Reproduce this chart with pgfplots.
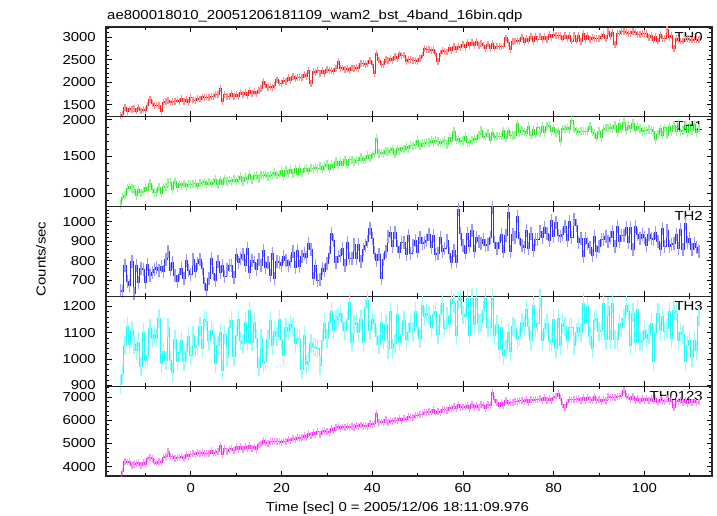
\documentclass[border=0pt]{standalone}
\usepackage{fontspec}
\setmainfont{Liberation Sans}[FakeStretch=1.15]
\usepackage{pgfplots}
\usepackage{pgfplotstable}
\pgfplotsset{compat=1.18}

% WAM light curve, 0.5 s bins: time, TH0, TH1, TH2, TH3, TH0123 (counts/sec)
\pgfplotstableread{
t th0 th1 th2 th3 sum
-15.5 1265 845 648 902 3560
-15.0 1285 945 642 940 3810
-14.5 1430 970 775 1050 4240
-14.0 1355 1065 696 1123 4200
-13.5 1407 1087 673 1055 4230
-13.0 1395 1065 798 1108 4060
-12.5 1408 1050 632 1055 4105
-12.0 1361 967 777 1032 4130
-11.5 1450 1045 688 1065 4175
-11.0 1363 1005 760 971 4050
-10.5 1402 1027 756 1100 4170
-10.0 1365 1075 687 993 4115
-9.5 1480 1040 782 1010 4335
-9.0 1620 1137 726 1115 4410
-8.5 1525 1050 740 1080 4350
-8.0 1485 1010 758 1093 4200
-7.5 1492 1010 768 1080 4160
-7.0 1490 1082 752 1155 4225
-6.5 1345 1000 770 985 4180
-6.0 1560 1087 745 1030 4385
-5.5 1565 1080 805 995 4440
-5.0 1600 1145 850 1120 4640
-4.5 1540 1150 753 995 4425
-4.0 1570 1050 792 950 4425
-3.5 1570 1155 727 1075 4355
-3.0 1605 1072 695 990 4400
-2.5 1570 1125 730 1025 4390
-2.0 1635 1098 763 1070 4460
-1.5 1565 1126 712 990 4370
-1.0 1622 1087 800 1028 4530
-0.5 1558 1120 752 1085 4440
0.0 1655 1115 730 1012 4540
0.5 1605 1125 805 1090 4550
1.0 1602 1132 745 1043 4505
1.5 1635 1095 788 1050 4615
2.0 1625 1138 805 1125 4575
2.5 1673 1140 760 1040 4620
3.0 1655 1155 682 1150 4580
3.5 1670 1122 650 1143 4570
4.0 1665 1150 710 1070 4580
4.5 1685 1123 810 1110 4690
5.0 1675 1151 735 1095 4570
5.5 1725 1190 700 985 4620
6.0 1730 1118 798 1050 4640
6.5 1865 1180 738 1100 4910
7.0 1570 1120 777 958 4540
7.5 1730 1195 720 1095 4775
8.0 1690 1157 753 1005 4660
8.5 1685 1175 775 1120 4730
9.0 1748 1156 777 1145 4800
9.5 1675 1190 716 1010 4700
10.0 1725 1160 830 1090 4860
10.5 1690 1190 792 1150 4730
11.0 1780 1230 811 1070 4860
11.5 1718 1156 830 1058 4730
12.0 1780 1220 776 1140 4875
12.5 1707 1180 865 1065 4790
13.0 1815 1257 738 1183 4905
13.5 1745 1180 800 1065 4780
14.0 1785 1235 790 1140 4850
14.5 1740 1242 757 1080 4745
15.0 1815 1200 805 970 4935
15.5 1860 1245 775 1080 4975
16.0 2010 1240 855 985 5130
16.5 1955 1257 765 990 5040
17.0 1890 1228 790 1075 5000
17.5 1900 1246 725 1145 5085
18.0 1875 1250 835 1050 5070
18.5 1930 1283 708 1105 5105
19.0 2050 1245 795 1085 5080
19.5 1980 1260 790 1150 5090
20.0 1970 1312 775 1075 5055
20.5 2045 1222 820 1015 5105
21.0 2020 1310 800 1120 5075
21.5 2110 1265 775 1105 5170
22.0 2045 1325 798 1130 5120
22.5 2120 1265 845 1120 5200
23.0 2085 1335 768 1060 5170
23.5 2105 1257 852 1080 5240
24.0 2100 1333 770 1075 5220
24.5 2105 1275 820 960 5250
25.0 2165 1330 838 1090 5340
25.5 2120 1340 817 980 5245
26.0 2255 1298 890 990 5415
26.5 1975 1340 857 1060 5325
27.0 2245 1332 710 1048 5470
27.5 2210 1355 775 1045 5390
28.0 2270 1335 700 1040 5520
28.5 2200 1370 705 975 5400
29.0 2260 1327 760 1070 5520
29.5 2190 1365 748 1135 5555
30.0 2280 1395 785 1080 5500
30.5 2250 1328 840 1140 5460
31.0 2255 1395 941 1180 5645
31.5 2235 1355 905 1110 5540
32.0 2295 1430 790 1150 5695
32.5 2460 1380 820 1160 5750
33.0 2295 1437 825 1175 5640
33.5 2315 1383 865 1140 5710
34.0 2285 1455 775 1110 5670
34.5 2300 1381 895 1150 5740
35.0 2265 1453 810 1215 5670
35.5 2315 1454 810 1065 5720
36.0 2310 1420 885 1130 5680
36.5 2320 1450 812 1140 5765
37.0 2305 1447 885 1100 5740
37.5 2420 1483 795 1150 5795
38.0 2405 1450 857 1065 5730
38.5 2400 1466 880 1195 5760
39.0 2415 1518 899 1222 5725
39.5 2485 1477 967 1110 5855
40.0 2400 1520 915 1150 5825
40.5 2200 1535 840 1135 5850
41.0 2645 1750 802 1085 6270
41.5 2490 1540 830 1055 5900
42.0 2400 1550 708 1140 5925
42.5 2395 1540 805 1070 5900
43.0 2510 1575 850 1130 6015
43.5 2485 1558 925 1035 5900
44.0 2530 1575 944 1180 6000
44.5 2485 1605 875 1040 5945
45.0 2575 1530 945 1060 6005
45.5 2515 1605 875 1170 5995
46.0 2625 1575 842 1065 6090
46.5 2595 1617 895 1095 6000
47.0 2600 1600 895 1145 6090
47.5 2455 1635 833 1075 6050
48.0 2510 1605 930 1100 6160
48.5 2505 1655 835 1135 6115
49.0 2480 1645 880 1105 6110
49.5 2475 1657 902 1180 6210
50.0 2460 1720 845 1125 6185
50.5 2530 1640 920 1080 6245
51.0 2600 1675 890 1205 6255
51.5 2745 1680 894 1163 6350
52.0 2715 1695 905 1175 6340
52.5 2720 1690 935 1165 6360
53.0 2705 1715 870 1120 6350
53.5 2720 1690 930 1170 6470
54.0 2640 1715 830 1180 6310
54.5 2460 1705 835 1095 6360
55.0 2640 1680 920 1170 6340
55.5 2710 1700 850 1210 6465
56.0 2685 1715 865 1115 6460
56.5 2670 1665 905 1160 6425
57.0 2765 1765 835 1130 6550
57.5 2695 1710 790 1225 6510
58.0 2795 1838 855 1210 6600
58.5 2725 1720 794 1090 6500
59.0 2790 1740 1062 1222 6660
59.5 2775 1705 941 1230 6530
60.0 2845 1715 880 1170 6570
60.5 2775 1770 840 1160 6540
61.0 2885 1690 940 1230 6625
61.5 2820 1690 875 1090 6510
62.0 2880 1715 955 1230 6665
62.5 2805 1740 850 1130 6550
63.0 2910 1735 920 1232 6630
63.5 2810 1795 900 1135 6545
64.0 2855 1860 890 1140 6665
64.5 2810 1765 910 1185 6640
65.0 2740 1775 880 1230 6510
65.5 2845 1815 885 1120 6660
66.0 2750 1720 920 1120 6640
66.5 2850 1830 1071 1230 7200
67.0 2755 1765 895 1090 6880
67.5 2800 1775 865 1130 6755
68.0 2795 1775 895 1035 6610
68.5 2780 1775 935 1120 6750
69.0 2800 1850 845 1015 6625
69.5 2980 1750 930 1035 6835
70.0 2880 1850 1045 1100 6735
70.5 2720 1790 850 1030 6770
71.0 2905 1785 934 1125 6770
71.5 2910 1790 920 1115 6790
72.0 2925 1950 1028 1075 6790
72.5 2895 1825 915 1085 6840
73.0 3000 1855 880 1140 6855
73.5 2885 1835 870 1125 6800
74.0 2975 1815 955 1190 6880
74.5 2910 1913 865 1125 6765
75.0 3005 1790 940 1070 6895
75.5 2900 1870 855 1205 6865
76.0 3010 1805 911 1120 6890
76.5 2945 1895 910 1135 6870
77.0 3020 1820 950 1230 6940
77.5 2945 1910 920 1070 6840
78.0 3020 1820 970 1115 6970
78.5 2945 1910 940 1135 6830
79.0 3055 1928 905 1070 6950
79.5 2985 1840 1006 1065 6840
80.0 3050 1900 925 1150 6995
80.5 3025 1820 995 1040 7035
81.0 3025 1850 930 1155 7130
81.5 3025 1700 925 1050 6950
82.0 2955 1875 935 1135 6690
82.5 3040 1870 975 1125 6550
83.0 2965 1890 905 1070 6770
83.5 3040 1865 1000 1120 6910
84.0 2910 1995 920 1120 6870
84.5 3025 1875 1010 1050 6900
85.0 2910 1850 980 1100 6890
85.5 3030 1830 895 1120 6945
86.0 2905 1845 915 1100 6850
86.5 3070 1845 820 1213 6995
87.0 2945 1845 915 1135 6860
87.5 3040 1835 890 1200 6990
88.0 2945 1913 870 1085 6875
88.5 2990 1830 825 1040 6860
89.0 2960 1815 925 1145 7010
89.5 2960 1748 850 1155 6850
90.0 2965 1845 872 1105 6900
90.5 3010 1760 910 1110 6790
91.0 3060 1870 910 1210 6875
91.5 2965 1885 925 1075 6860
92.0 3120 1885 900 1200 7005
92.5 3015 1895 920 1075 6960
93.0 3100 1875 950 1210 6970
93.5 2830 1920 875 1075 6965
94.0 3085 1820 975 1075 7015
94.5 3090 1950 900 1135 7025
95.0 3115 1870 928 1120 7050
95.5 3115 1965 930 1155 7270
96.0 3110 1850 970 1205 7040
96.5 3080 1920 895 1180 6995
97.0 3075 1875 970 1050 6900
97.5 3115 1950 860 1175 7015
98.0 3105 1855 973 1065 6860
98.5 3060 1905 935 1190 6940
99.0 3060 1880 915 1065 6825
99.5 3075 1840 935 1070 6945
100.0 3080 1850 920 1110 6845
100.5 3085 1860 880 1080 6950
101.0 2985 1865 935 1095 6850
101.5 3040 1863 915 1135 6940
102.0 2935 1840 911 990 6820
102.5 3015 1725 945 1100 6940
103.0 2910 1805 900 1175 6780
103.5 3050 1875 860 1110 6890
104.0 2960 1790 965 1160 6840
104.5 2970 1890 875 1105 6805
105.0 3160 1790 955 1115 6915
105.5 2980 1903 875 1180 6795
106.0 3025 1840 885 1080 6890
106.5 2750 1925 890 1185 6560
107.0 2960 1840 935 1175 6840
107.5 2935 1950 865 1070 6790
108.0 2910 1835 960 1100 6840
108.5 2910 1853 860 1095 6750
109.0 2955 1925 993 990 6860
109.5 2965 1820 895 1050 6700
110.0 2950 1938 915 1070 6835
110.5 2935 1855 860 1005 6750
111.0 2950 1935 887 1070 6855
111.5 2945 1825 866 1032 6740
112.0 2940 1885 845 1160 6780
}\wamdata

\definecolor{cTHa}{RGB}{255,30,30}
\definecolor{cTHb}{RGB}{40,235,40}
\definecolor{cTHc}{RGB}{50,50,255}
\definecolor{cTHd}{RGB}{40,250,250}
\definecolor{cTHe}{RGB}{250,40,250}

\pgfplotsset{
  panel/.style={
    scale only axis, width=606bp, height=89.8bp,
    anchor=north west,
    xmin=-18.7, xmax=114.9,
    xtick={0,20,...,100}, minor xtick={-10,10,30,50,70,90,110},
    xtick pos=both, ytick pos=both, yticklabel pos=left,
    tick align=inside,
    major tick length=5.5bp, minor tick length=3bp,
    every tick/.style={black, line width=0.7bp},
    axis line style={line width=1.1bp, black!85},
    font=\fontsize{13bp}{15bp}\selectfont,
    /pgf/number format/assume math mode=true,
    /pgf/number format/1000 sep={},
    yticklabel style={anchor=east, inner sep=0pt, xshift=-10bp},
    xticklabel style={anchor=north, inner sep=0pt, yshift=-7bp},
  },
  % line through the bins
  lc/.style={#1, const plot mark mid, mark=none, line width=0.9bp},
  % error bars: fixed half length, drawn as vertical bar marks
  eb/.style 2 args={forget plot, only marks, mark=|, mark size=#2,
    mark options={draw=#1!50!white, line width=1.3bp}},
}

\newcommand{\thlabel}[1]{\node[anchor=north east, inner sep=0pt] at (rel axis cs:1,1) [xshift=-9bp, yshift=-5bp] {#1};}

\begin{document}
\begin{tikzpicture}[font=\fontsize{13bp}{15bp}\selectfont]
\path[use as bounding box] (0,0) rectangle (717bp,516bp);

\begin{axis}[panel, at={(106bp,489bp)}, xticklabels={},
  ymin=1233, ymax=3222, ytick={1500,2000,2500,3000},
  minor ytick={1300,1400,...,3200}]
  \addplot[eb={cTHa}{3.4bp}] table[x=t, y=th0] {\wamdata};
  \addplot[lc=cTHa] table[x=t, y=th0] {\wamdata};
  \thlabel{TH0}
\end{axis}

\begin{axis}[panel, at={(106bp,399.2bp)}, xticklabels={},
  ymin=816, ymax=2040, ytick={1000,1500,2000},
  minor ytick={900,1000,...,2000}]
  \addplot[eb={cTHb}{4.2bp}] table[x=t, y=th1] {\wamdata};
  \addplot[lc=cTHb] table[x=t, y=th1] {\wamdata};
  \thlabel{TH1}
\end{axis}

\begin{axis}[panel, at={(106bp,309.4bp)}, xticklabels={},
  ymin=618, ymax=1077, ytick={700,800,900,1000},
  minor ytick={620,640,...,1060}]
  \addplot[eb={cTHc}{6.5bp}] table[x=t, y=th2] {\wamdata};
  \addplot[lc=cTHc] table[x=t, y=th2] {\wamdata};
  \thlabel{TH2}
\end{axis}

\begin{axis}[panel, at={(106bp,219.6bp)}, xticklabels={},
  ymin=897, ymax=1238, ytick={900,1000,1100,1200},
  minor ytick={900,920,...,1220}]
  \addplot[eb={cTHd}{9.5bp}] table[x=t, y=th3] {\wamdata};
  \addplot[lc=cTHd] table[x=t, y=th3] {\wamdata};
  \thlabel{TH3}
\end{axis}

\begin{axis}[panel, at={(106bp,129.8bp)},
  ymin=3600, ymax=7460, ytick={4000,5000,6000,7000},
  minor ytick={3600,3800,...,7400}]
  \addplot[eb={cTHe}{3.4bp}] table[x=t, y=sum] {\wamdata};
  \addplot[lc=cTHe] table[x=t, y=sum] {\wamdata};
  \thlabel{TH0123}
\end{axis}

\node[anchor=base west, inner sep=0pt] at (107bp,496.5bp)
  {ae800018010\_20051206181109\_wam2\_bst\_4band\_16bin.qdp};
\node[rotate=90, inner sep=0pt] at (41bp,257bp) {Counts/sec};
\node[anchor=base, inner sep=0pt] at (397.5bp,5bp)
  {Time [sec] 0 = 2005/12/06 18:11:09.976};
\end{tikzpicture}
\end{document}
